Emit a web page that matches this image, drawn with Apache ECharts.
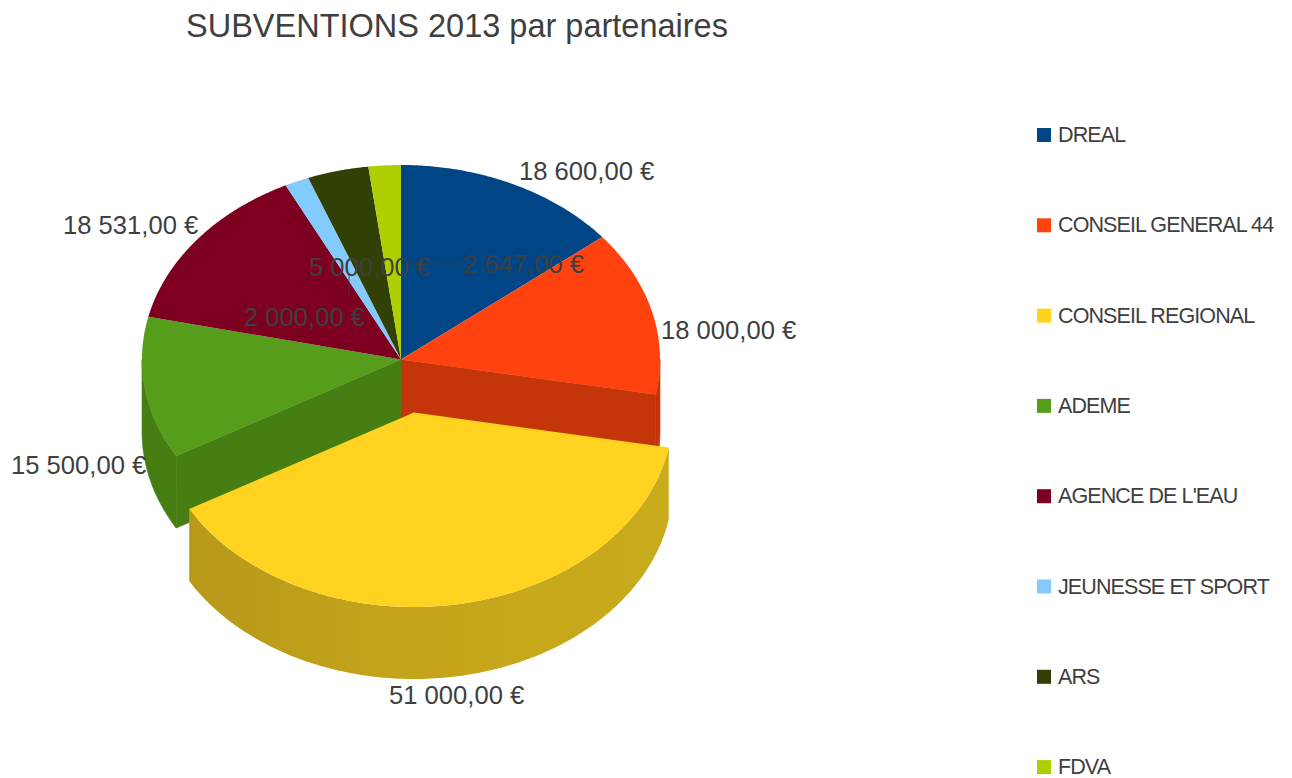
<!DOCTYPE html>
<html><head><meta charset="utf-8">
<style>
html,body{margin:0;padding:0;background:#fff}
#c{width:1292px;height:778px}
#c text[style*="21.5px"]{letter-spacing:-.9px}
</style>
<script src="https://cdn.jsdelivr.net/npm/echarts@6/dist/echarts.min.js"></script>
</head><body><div id="c"></div>
<script>
const categories = ['DREAL','CONSEIL GENERAL 44','CONSEIL REGIONAL','ADEME',"AGENCE DE L'EAU",'JEUNESSE ET SPORT','ARS','FDVA'];
const values = [18600,18000,51000,15500,18531,2000,5000,2647];
const topColors = ['#004586','#ff420e','#ffd320','#579d1c','#7e0021','#83caff','#314004','#aecf00'];
const wallColors = ['#003566','#c4350a','#c7a81b','#477e14','#5f0019','#639ac2','#252f03','#849d00'];
const titleText = 'SUBVENTIONS 2013 par partenaires';

// layout only
const CX=401, CY=359.5, RX=259, RY=194.5, DEPTH=72;
const EXPLODED={2:[13,53]};
const labelPos=[[519,171],[661,330],[389,695],[11,465],[63,225],[244,317],[309,267],[463,264]];
const leaders={5:[[349,273],[349,298]],7:[[405,263],[463,263]]};
const total=values.reduce((a,b)=>a+b,0);
const fmt=v=>{const [a,b]=v.toFixed(2).split('.');return a.replace(/\B(?=(\d{3})+$)/g,' ')+','+b+' €';};
const TXT='#3f3f3f', FONT='25.6px "Liberation Sans"';

function rim(deg,dx,dy,d){const r=deg*Math.PI/180;return [CX+dx+RX*Math.sin(r),CY+dy-RY*Math.cos(r)+d];}

function renderSlice(i){
  return function(params,api){
    const v=api.value(0);
    let sum=0;for(let k=0;k<i;k++)sum+=values[k];
    const a0=sum/total*360,a1=(sum+v)/total*360;
    const [dx,dy]=EXPLODED[i]||[0,0];
    const z=EXPLODED[i]?5:1;
    const children=[];
    // outer wall: only the part of the arc facing the viewer
    const w0=Math.max(a0,90),w1=Math.min(a1,270);
    if(w1>w0){
      const up=[],down=[];
      for(let t=w0;t<w1;t+=1){up.push(rim(t,dx,dy,0));down.unshift(rim(t,dx,dy,DEPTH));}
      up.push(rim(w1,dx,dy,0));down.unshift(rim(w1,dx,dy,DEPTH));
      let fill=wallColors[i], stroke=wallColors[i], lineWidth=0.6;
      if(EXPLODED[i]){
        fill={type:'linear',x:0,y:0,x2:1,y2:0,colorStops:[
          {offset:0,color:'#b8991a'},{offset:.35,color:'#c1a21a'},{offset:.7,color:'#c7a81b'},{offset:1,color:'#c9ab1e'}]};
        stroke=null;lineWidth=0;
      }
      children.push({type:'polygon',z2:z,shape:{points:up.concat(down)},style:{fill,stroke,lineWidth}});
    }
    // radial walls, seen where a neighbouring slice is pulled out
    const c=[CX+dx,CY+dy];
    [a0,a1].forEach(a=>{
      const m=((a%360)+360)%360;
      const nearGap=Object.keys(EXPLODED).some(n=>{
        let s=0;for(let k=0;k<+n;k++)s+=values[k];
        const e=s+values[+n];
        return Math.abs(s/total*360-a)<1e-6||Math.abs(e/total*360-a)<1e-6;
      });
      if(!nearGap||EXPLODED[i])return;
      const p=rim(m,dx,dy,0),q=rim(m,dx,dy,DEPTH);
      children.push({type:'polygon',z2:z,shape:{points:[c,p,q,[c[0],c[1]+DEPTH]]},style:{fill:wallColors[i],stroke:wallColors[i],lineWidth:0.6}});
    });
    // top face
    const pts=[c];
    for(let t=a0;t<a1;t+=0.5)pts.push(rim(t,dx,dy,0));
    pts.push(rim(a1,dx,dy,0));
    children.push({type:'polygon',z2:z+1,shape:{points:pts},style:{fill:topColors[i]}});
    // value label
    children.push({type:'text',z2:20,style:{x:labelPos[i][0],y:labelPos[i][1],text:fmt(v),fill:TXT,font:FONT,align:'left',verticalAlign:'middle'}});
    if(leaders[i])children.push({type:'polyline',z2:19,shape:{points:leaders[i]},style:{stroke:'#3f3f3f',lineWidth:.8,fill:null}});
    return {type:'group',children};
  };
}

const chart=echarts.init(document.getElementById('c'),null,{renderer:'svg',width:1292,height:778});
chart.setOption({
  animation:false,
  backgroundColor:'#fff',
  color:topColors,
  title:{text:titleText,left:186,top:9,padding:0,textStyle:{fontFamily:'Liberation Sans',fontSize:32.5,fontWeight:'normal',color:'#3f3f3f'}},
  legend:{orient:'vertical',left:1037,top:124,height:700,padding:0,icon:'rect',itemWidth:14,itemHeight:14,itemGap:68.3,
    data:categories,selectedMode:false,
    textStyle:{fontFamily:'Liberation Sans',fontSize:21.5,color:'#3f3f3f',padding:[0,0,0,2]}},
  series:categories.map((name,i)=>({
    type:'custom',name,coordinateSystem:'none',silent:true,
    itemStyle:{color:topColors[i]},
    renderItem:renderSlice(i),
    data:[{name,value:values[i]}]
  }))
});
</script></body></html>
